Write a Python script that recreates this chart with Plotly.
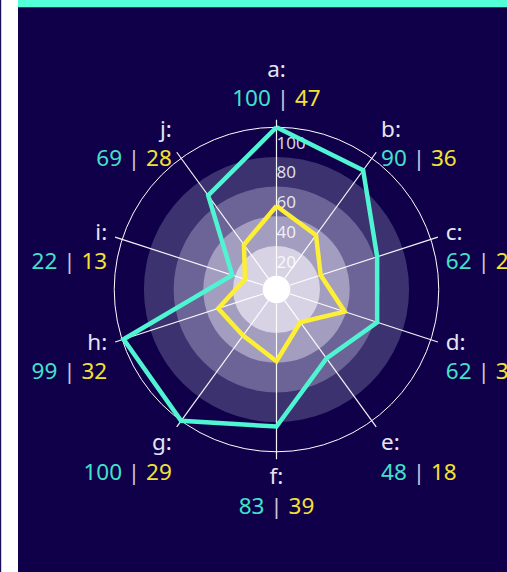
import math
import plotly.graph_objects as go

# ---- data ----
categories = ["a", "b", "c", "d", "e", "f", "g", "h", "i", "j"]
series_teal = [100, 90, 62, 62, 48, 83, 100, 99, 22, 69]
series_yellow = [47, 36, 22, 39, 18, 39, 29, 32, 13, 28]
radial_ticks = [20, 40, 60, 80, 100]
band_edges = [80, 60, 40, 20]
band_colors = ["#3c3270", "#6c6397", "#a39dc0", "#d7d3e5"]

# ---- styling ----
NAVY = "#10004a"
TEAL = "#4ff5d2"
TEAL_TXT = "#41e2c9"
YELLOW = "#fdef36"
YELLOW_TXT = "#f3e331"
LABEL = "#e6e4f0"
FONT = "Noto Sans"
R_MIN = -9.3        # axis start (leaves the white centre hole)
R_SPOKE = 105       # spokes run slightly past the 100 ring
R_LABEL = 110.6     # category labels anchor radius
R_MAX = 111         # axis end (invisible outer edge)


def label(cat, t, y, lead):
    txt = (f"{cat}:<br><span style='color:{TEAL_TXT}'>{t}</span>"
           f"<span style='color:#c9c6d8'> | </span>"
           f"<span style='color:{YELLOW_TXT}'>{y}</span>")
    return ("<br>" + txt) if lead else txt


def placement(i, n):
    ang = 360.0 * i / n
    c = math.cos(math.radians(ang))
    if 0 < ang < 180:
        h = "right"
    elif ang > 180:
        h = "left"
    else:
        h = "center"
    if c > 0.9:
        return "top " + h, False
    if c > 0.5:
        return "middle " + h, False
    if c > -0.5:
        return "middle " + h, True
    return "bottom " + h, False


n = len(categories)
lab_text, lab_pos = [], []
for i, (c, t, y) in enumerate(zip(categories, series_teal, series_yellow)):
    pos, lead = placement(i, n)
    lab_pos.append(pos)
    lab_text.append(label(c, t, y, lead))

fig = go.Figure()

# concentric bands
for edge, col in zip(band_edges, band_colors):
    fig.add_trace(go.Barpolar(
        r=[edge - R_MIN], base=[R_MIN], theta=[categories[0]], width=[360],
        marker=dict(color=col, line=dict(width=0)), hoverinfo="skip", showlegend=False))

# spokes
sr, st = [], []
for c in categories:
    sr += [0, R_SPOKE, None]
    st += [c, c, None]
fig.add_trace(go.Scatterpolar(r=sr, theta=st, mode="lines",
                              line=dict(color="rgba(255,255,255,0.95)", width=1.2),
                              hoverinfo="skip", showlegend=False))

# white hole
fig.add_trace(go.Barpolar(
    r=[0 - R_MIN], base=[R_MIN], theta=[categories[0]], width=[360],
    marker=dict(color="white", line=dict(width=0)), hoverinfo="skip", showlegend=False))

# radial tick labels (set a little below each ring)
fig.add_trace(go.Scatterpolar(
    r=radial_ticks, theta=[categories[0]] * len(radial_ticks), mode="text",
    text=[f"<br><span style='font-size:17px'>{v}</span>" for v in radial_ticks],
    textposition="bottom right",
    textfont=dict(family=FONT, size=10.5, color="rgba(255,255,255,0.85)"),
    hoverinfo="skip", showlegend=False))

# series
for vals, col in [(series_teal, TEAL), (series_yellow, YELLOW)]:
    fig.add_trace(go.Scatterpolar(
        r=vals + vals[:1], theta=categories + categories[:1], mode="lines",
        line=dict(color=col, width=4.5), hoverinfo="skip", showlegend=False))

# category labels
fig.add_trace(go.Scatterpolar(
    r=[R_LABEL] * n, theta=categories, mode="text", text=lab_text,
    textposition=lab_pos, cliponaxis=False,
    textfont=dict(family=FONT, size=22.5, color=LABEL),
    hoverinfo="skip", showlegend=False))

fig.update_layout(
    width=507, height=572,
    margin=dict(l=0, r=0, t=0, b=0),
    paper_bgcolor=NAVY,
    font=dict(family=FONT, color=LABEL),
    showlegend=False,
    polar=dict(
        domain=dict(x=[0.1931, 0.8976], y=[0.1816, 0.8061]),
        bgcolor=NAVY,
        bargap=0,
        radialaxis=dict(range=[R_MIN, R_MAX], tickvals=[100], showticklabels=False,
                        showgrid=True, gridcolor="white", gridwidth=1.3,
                        showline=False, ticks=""),
        angularaxis=dict(type="category", categoryarray=categories,
                         direction="clockwise", rotation=90,
                         showticklabels=False,
                         showgrid=False, showline=False, ticks=""),
    ),
    shapes=[
        dict(type="rect", xref="paper", yref="paper", x0=0, x1=18 / 507, y0=0, y1=1,
             fillcolor="white", line=dict(width=0), layer="above"),
        dict(type="rect", xref="paper", yref="paper", x0=0, x1=1.2 / 507, y0=0, y1=1,
             fillcolor="#1b0c55", line=dict(width=0), layer="above"),
        dict(type="rect", xref="paper", yref="paper", x0=18 / 507, x1=1, y0=1 - 7.3 / 572, y1=1,
             fillcolor="#52ffd7", line=dict(width=0), layer="above"),
    ],
)

fig.write_html("out.html")
